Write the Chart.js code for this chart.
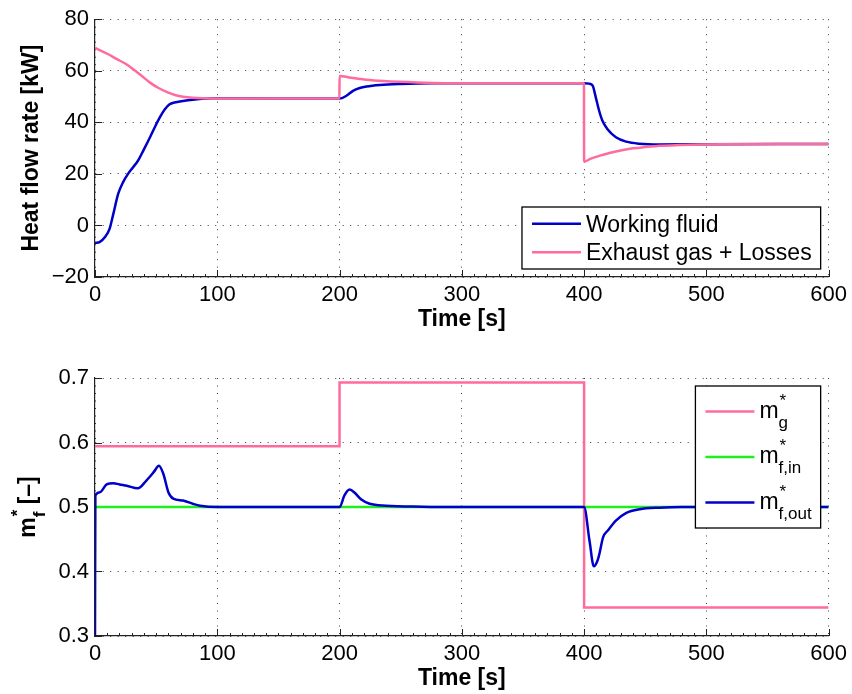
<!DOCTYPE html>
<html>
<head>
<meta charset="utf-8">
<script src="https://cdn.jsdelivr.net/npm/chart.js@4.4.1/dist/chart.umd.min.js"></script>
<style>
  body { margin: 0; background: #fff; }
  .panel { position: relative; width: 852px; }
  #topPanel { height: 335px; }
  #bottomPanel { height: 359px; }
</style>
</head>
<body>
<div class="panel" id="topPanel"><canvas id="heatChart"></canvas></div>
<div class="panel" id="bottomPanel"><canvas id="flowChart"></canvas></div>
<script>
// heat flow to the working fluid [kW]
const tWorking = [0, 4, 8, 12, 15, 19, 23, 27, 31, 35, 40, 45, 49, 53, 57, 61, 65, 72, 80, 90, 100, 200,
  205.6, 211, 216.5, 222, 233, 249, 276, 400, 404, 407, 409.6, 412.3, 415, 419, 426, 434.5, 445, 462, 500, 600];
const qWorking = [-6.8, -6.4, -4.6, -1.2, 4.5, 12.3, 16.8, 20, 22.5, 25, 29.5, 34.2, 38.2, 41.9, 45, 47, 47.7, 48.3, 48.8, 49.2, 49.3, 49.2,
  50.3, 52.2, 53.3, 53.9, 54.5, 54.9, 55.2, 55.2, 55.0, 54.2, 49.6, 44.5, 40.6, 37.4, 34.2, 32.5, 31.7, 31.4, 31.5, 31.6];

// exhaust gas heat minus losses [kW]
const tExhaust = [0, 10, 18, 25, 31, 38, 45, 52, 59, 66, 72, 80, 90, 100, 150, 199.9,
  200, 208, 215, 222, 236, 249, 276, 300, 399.9,
  400, 406, 413, 420, 426, 433, 440, 450, 462, 478, 494, 520, 560, 600];
const qExhaust = [68.9, 66.6, 64.5, 62.7, 60.7, 58.1, 55.4, 53.3, 51.7, 50.5, 49.9, 49.5, 49.3, 49.2, 49.2, 49.2,
  58.0, 57.4, 56.9, 56.5, 56.0, 55.7, 55.3, 55.2, 55.2,
  24.8, 26.0, 27.1, 28.0, 28.7, 29.4, 29.9, 30.4, 30.9, 31.2, 31.4, 31.5, 31.6, 31.6];

// normalised mass flows [-]
const tGas = [0, 200, 400, 600];
const mGas = [0.594, 0.693, 0.344, 0.344];
const tFluidIn = [0, 600];
const mFluidIn = [0.5, 0.5];
const tFluidOut = [0, 0.3, 4, 9.5, 15, 20, 26, 35, 42, 48, 52.3, 55.8, 60, 64, 72, 80, 86, 100, 200,
  204, 208.3, 212.4, 217.8, 224.6, 238, 267, 300, 400,
  404.4, 408, 411, 412.6, 415.5, 419.6, 426, 434.6, 445.4, 461.6, 480, 600];
const mFluidOut = [0.3, 0.518, 0.523, 0.535, 0.537, 0.535, 0.533, 0.529, 0.541, 0.554, 0.564, 0.552, 0.523, 0.513, 0.510, 0.505, 0.502, 0.5, 0.5,
  0.518, 0.527, 0.522, 0.5115, 0.505, 0.502, 0.5005, 0.5, 0.5,
  0.448, 0.408, 0.417, 0.428, 0.453, 0.464, 0.479, 0.491, 0.4965, 0.499, 0.5, 0.5];

// tick labels
const timeTicks = [0, 100, 200, 300, 400, 500, 600];
const heatTicks = [-20, 0, 20, 40, 60, 80];
const flowTicks = [0.3, 0.4, 0.5, 0.6, 0.7];

// legend subscripts for the mass flows
const flowSubs = ['g', 'f,in', 'f,out'];

const BLUE = '#0000c8';
const PINK = '#ff6c9c';
const GREEN = '#1ef01e';
const FONT = '"Liberation Sans", Arial, Helvetica, sans-serif';

Chart.defaults.font.family = FONT;
Chart.defaults.font.size = 22;
Chart.defaults.color = '#000';

const toPoints = (ts, vs) => ts.map((t, i) => ({x: t, y: vs[i]}));

// tick marks pointing into the plot, minor ones every 10 s
const innerTicks = {
  id: 'innerTicks',
  beforeDatasetsDraw(chart) {
    const {ctx, chartArea: a, scales: {x, y}} = chart;
    ctx.save();
    ctx.strokeStyle = '#222';
    ctx.lineWidth = 1;
    ctx.beginPath();
    x.ticks.forEach(t => {
      const px = Math.round(x.getPixelForValue(t.value)) + 0.5;
      ctx.moveTo(px, a.bottom);
      ctx.lineTo(px, a.bottom - 7);
    });
    for (let v = x.min; v <= x.max; v += 10) {
      const px = Math.round(x.getPixelForValue(v)) + 0.5;
      ctx.moveTo(px, a.bottom);
      ctx.lineTo(px, a.bottom - 3);
    }
    y.ticks.forEach(t => {
      const py = Math.round(y.getPixelForValue(t.value)) + 0.5;
      ctx.moveTo(a.left, py);
      ctx.lineTo(a.left + 7, py);
    });
    ctx.stroke();
    ctx.restore();
  }
};

// text with a stacked superscript / subscript, like m*_f
function richWidth(ctx, base, sub, mainFont, smallFont) {
  ctx.font = mainFont;
  let w = ctx.measureText(base).width;
  if (sub) {
    ctx.font = smallFont;
    w += Math.max(ctx.measureText(sub).width, ctx.measureText('*').width);
  }
  return w;
}
function drawRich(ctx, x, y, base, sub, tail, mainFont, smallFont) {
  ctx.textAlign = 'left';
  ctx.textBaseline = 'alphabetic';
  ctx.font = mainFont;
  ctx.fillText(base, x, y);
  let cx = x + ctx.measureText(base).width;
  if (sub) {
    ctx.font = smallFont;
    ctx.fillText('*', cx + 1, y - 12);
    ctx.fillText(sub, cx, y + 10);
    cx += Math.max(ctx.measureText(sub).width, ctx.measureText('*').width);
  }
  if (tail) {
    ctx.font = mainFont;
    ctx.fillText(tail, cx, y);
  }
}

// boxed legend in a corner of the axes
const boxLegend = {
  id: 'boxLegend',
  afterDraw(chart, args, opts) {
    const {ctx, chartArea: a} = chart;
    const sets = chart.data.datasets;
    const mainFont = '23px ' + FONT;
    const smallFont = '17px ' + FONT;
    ctx.save();
    let textW = 0;
    sets.forEach((ds, i) => {
      const sub = opts.subs ? opts.subs[i] : null;
      const base = opts.subs ? 'm' : ds.label;
      textW = Math.max(textW, richWidth(ctx, base, sub, mainFont, smallFont));
    });
    const w = 64 + textW + 9;
    const h = sets.length * opts.rowHeight + 2 * opts.padY;
    const right = a.right - 8;
    const left = right - w;
    const top = opts.corner === 'top' ? a.top + 8 : a.bottom - 8 - h;
    ctx.fillStyle = '#fff';
    ctx.fillRect(left, top, w, h);
    ctx.strokeStyle = '#000';
    ctx.lineWidth = 1.3;
    ctx.strokeRect(left, top, w, h);
    sets.forEach((ds, i) => {
      const cy = top + opts.padY + opts.rowHeight * (i + 0.5);
      ctx.strokeStyle = ds.borderColor;
      ctx.lineWidth = 2.5;
      ctx.beginPath();
      ctx.moveTo(left + 10, cy);
      ctx.lineTo(left + 59, cy);
      ctx.stroke();
      ctx.fillStyle = '#000';
      if (opts.subs) {
        drawRich(ctx, left + 64, cy + opts.baseOffset, 'm', opts.subs[i], null, mainFont, smallFont);
      } else {
        ctx.font = mainFont;
        ctx.textBaseline = 'alphabetic';
        ctx.textAlign = 'left';
        ctx.fillText(ds.label, left + 64, cy + opts.baseOffset);
      }
    });
    ctx.restore();
  }
};

// rotated y label m*_f [–] for the mass flow axes
const flowAxisLabel = {
  id: 'flowAxisLabel',
  afterDraw(chart) {
    const {ctx, chartArea: a} = chart;
    const mainFont = 'bold 23px ' + FONT;
    const smallFont = 'bold 17px ' + FONT;
    ctx.save();
    const w = richWidth(ctx, 'm', 'f', mainFont, smallFont) + (ctx.font = mainFont, ctx.measureText(' [–]').width);
    ctx.translate(35, (a.top + a.bottom) / 2);
    ctx.rotate(-Math.PI / 2);
    ctx.fillStyle = '#000';
    drawRich(ctx, -w / 2, 0, 'm', 'f', ' [–]', mainFont, smallFont);
    ctx.restore();
  }
};

function timeAxis() {
  return {
    type: 'linear',
    min: 0,
    max: 600,
    afterBuildTicks: s => { s.ticks = timeTicks.map(v => ({value: v})); },
    afterFit: s => { s.height = 58; },
    ticks: {padding: 5, maxRotation: 0, font: {size: 22}},
    grid: {color: '#3a3a3a', lineWidth: 1, drawTicks: false},
    border: {color: '#222', width: 1.2, dash: [1, 6.5]},
    title: {display: true, text: 'Time [s]', font: {size: 23, weight: 'bold'}, padding: {top: 0, bottom: 2}}
  };
}

function valueAxis(min, max, list, fmt, title) {
  return {
    type: 'linear',
    min: min,
    max: max,
    afterBuildTicks: s => { s.ticks = list.map(v => ({value: v})); },
    afterFit: s => { s.width = 95; },
    ticks: {padding: 6, font: {size: 22}, callback: fmt},
    grid: {color: '#3a3a3a', lineWidth: 1, drawTicks: false},
    border: {color: '#222', width: 1.2, dash: [1, 6.5]},
    title: title
  };
}

const lineStyle = {
  borderWidth: 2.5,
  pointRadius: 0,
  fill: false,
  cubicInterpolationMode: 'monotone'
};

new Chart(document.getElementById('heatChart'), {
  type: 'line',
  data: {
    datasets: [
      Object.assign({label: 'Working fluid', data: toPoints(tWorking, qWorking), borderColor: BLUE, order: 1}, lineStyle),
      Object.assign({label: 'Exhaust gas + Losses', data: toPoints(tExhaust, qExhaust), borderColor: PINK, order: 0}, lineStyle)
    ]
  },
  options: {
    responsive: true,
    maintainAspectRatio: false,
    animation: false,
    layout: {padding: {left: 0, right: 23, top: 18, bottom: 0}},
    plugins: {
      legend: {display: false},
      tooltip: {enabled: false},
      boxLegend: {corner: 'bottom', rowHeight: 28.5, padY: 2.5, baseOffset: 8}
    },
    scales: {
      x: timeAxis(),
      y: valueAxis(-20, 80, heatTicks, v => String(v).replace('-', '\u2212'),
        {display: true, text: 'Heat flow rate [kW]', font: {size: 23, weight: 'bold'}, padding: {top: 18, bottom: 0}})
    }
  },
  plugins: [innerTicks, boxLegend]
});

new Chart(document.getElementById('flowChart'), {
  type: 'line',
  data: {
    datasets: [
      Object.assign({}, lineStyle, {label: 'm*_g', data: toPoints(tGas, mGas), borderColor: PINK, stepped: true, cubicInterpolationMode: 'default', order: 2}),
      Object.assign({}, lineStyle, {label: 'm*_f,in', data: toPoints(tFluidIn, mFluidIn), borderColor: GREEN, order: 1}),
      Object.assign({}, lineStyle, {label: 'm*_f,out', data: toPoints(tFluidOut, mFluidOut), borderColor: BLUE, order: 0})
    ]
  },
  options: {
    responsive: true,
    maintainAspectRatio: false,
    animation: false,
    layout: {padding: {left: 0, right: 23, top: 43, bottom: 0}},
    plugins: {
      legend: {display: false},
      tooltip: {enabled: false},
      boxLegend: {corner: 'top', rowHeight: 45.5, padY: 2.75, baseOffset: 6, subs: flowSubs}
    },
    scales: {
      x: timeAxis(),
      y: valueAxis(0.3, 0.7, flowTicks, v => v.toFixed(1), {display: false})
    }
  },
  plugins: [innerTicks, boxLegend, flowAxisLabel]
});
</script>
</body>
</html>
